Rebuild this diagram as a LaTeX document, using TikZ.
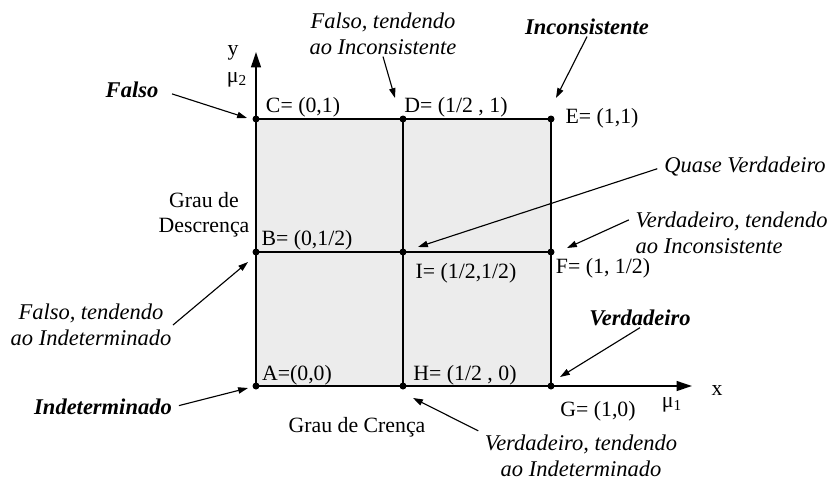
\documentclass[tikz,border=0pt]{standalone}
\usepackage{fontspec}
\setmainfont{Liberation Serif}
\usetikzlibrary{arrows.meta}
\usetikzlibrary{positioning}
\tikzset{
  coord/.style={font=\fontsize{15.5}{18}\selectfont, inner sep=1pt},
  note/.style={font=\fontsize{16}{18.5}\selectfont\itshape, align=center, inner sep=1pt},
  strongnote/.style={note, font=\fontsize{16}{18.5}\selectfont\bfseries\itshape},
  pointer/.style={-{Triangle[length=7pt,width=4.5pt]}, line width=0.8pt},
  axis/.style={-{Triangle[length=11pt,width=7pt]}, line width=1.3pt},
  grid/.style={line width=0.9pt},
}

\begin{document}
\begin{tikzpicture}[x=0.025cm, y=-0.025cm]
  \useasboundingbox (0,0) rectangle (838,483);

  % lattice points
  \coordinate (A) at (256,386);
  \coordinate (H) at (403,386);
  \coordinate (G) at (551,386);
  \coordinate (B) at (256,252);
  \coordinate (I) at (403,252);
  \coordinate (F) at (551,252);
  \coordinate (C) at (256,119);
  \coordinate (D) at (403,119);
  \coordinate (E) at (551,119);
  \coordinate (xtip) at (692,386);
  \coordinate (ytip) at (256,52);

  \fill [gray!15] (A) rectangle (E);

  \draw [grid] (C) -- (E) -- (G);
  \draw [grid] (B) -- (F);
  \draw [grid] (D) -- (H);
  \draw [axis] (A) -- (xtip);
  \draw [axis] (A) -- (ytip);

  \foreach \p in {A,B,C,D,E,F,G,H,I}
    \fill (\p) circle (3.5);

  % axes
  \node [coord] (ylab) at (233,53) {y};
  \node [coord] (mu2) at (237,80) {μ\textsubscript{2}};
  \node [coord] (xlab) at (717,390) {x};
  \node [coord] (mu1) at (672,405) {μ\textsubscript{1}};
  \node [coord, align=center] (descr) at (204,215) {Grau de\\Descrença};
  \node [coord] (crenca) at (357,427) {Grau de Crença};

  % point labels
  \node [coord] (lA) at (297,375) {A=(0,0)};
  \node [coord] (lH) at (465,375) {H= (1/2 , 0)};
  \node [coord] (lG) at (598,411) {G= (1,0)};
  \node [coord] (lB) at (307,240) {B= (0,1/2)};
  \node [coord] (lI) at (466,273) {I= (1/2,1/2)};
  \node [coord] (lF) at (603,268) {F= (1, 1/2)};
  \node [coord] (lC) at (303,107) {C= (0,1)};
  \node [coord] (lD) at (456,107) {D= (1/2 , 1)};
  \node [coord] (lE) at (602,118) {E= (1,1)};

  % notes
  \node [strongnote] (falso) at (132,90) {Falso};
  \node [note] (fti) at (383,34) {Falso, tendendo\\ao Inconsistente};
  \node [strongnote] (inc) at (587,27) {Inconsistente};
  \node [note] (qv) at (745,167) {Quase Verdadeiro};
  \node [note, align=left, anchor=west] (vti) at (634,233) {Verdadeiro, tendendo\\ ao Inconsistente};
  \node [note] (ftd) at (91,325) {Falso, tendendo\\ao Indeterminado};
  \node [strongnote] (indet) at (103,407) {Indeterminado};
  \node [strongnote] (verd) at (640,318) {Verdadeiro};
  \node [note] (vtd) at (581,456) {Verdadeiro, tendendo\\ao Indeterminado};

  % arrow tips
  \coordinate (tC) at (247,118);
  \coordinate (tD) at (395,98);
  \coordinate (tE) at (556,98);
  \coordinate (tI) at (418,247);
  \coordinate (tF) at (567,248);
  \coordinate (tB) at (248,262);
  \coordinate (tA) at (248,388);
  \coordinate (tG) at (560,377);
  \coordinate (tH) at (413,398);

  \draw [pointer, shorten <=9pt] (falso.east) -- (tC);
  \draw [pointer] (fti.south) -- (tD);
  \draw [pointer] (inc.south) -- (tE);
  \draw [pointer, shorten <=4pt] (qv.west) -- (tI);
  \draw [pointer, shorten <=4pt] ([yshift=11pt]vti.west) -- (tF);
  \draw [pointer] (ftd.east) -- (tB);
  \draw [pointer, shorten <=4pt] (indet.east) -- (tA);
  \draw [pointer] (verd.south) -- (tG);
  \draw [pointer, shorten <=4pt] (vtd.north west) -- (tH);
\end{tikzpicture}
\end{document}
